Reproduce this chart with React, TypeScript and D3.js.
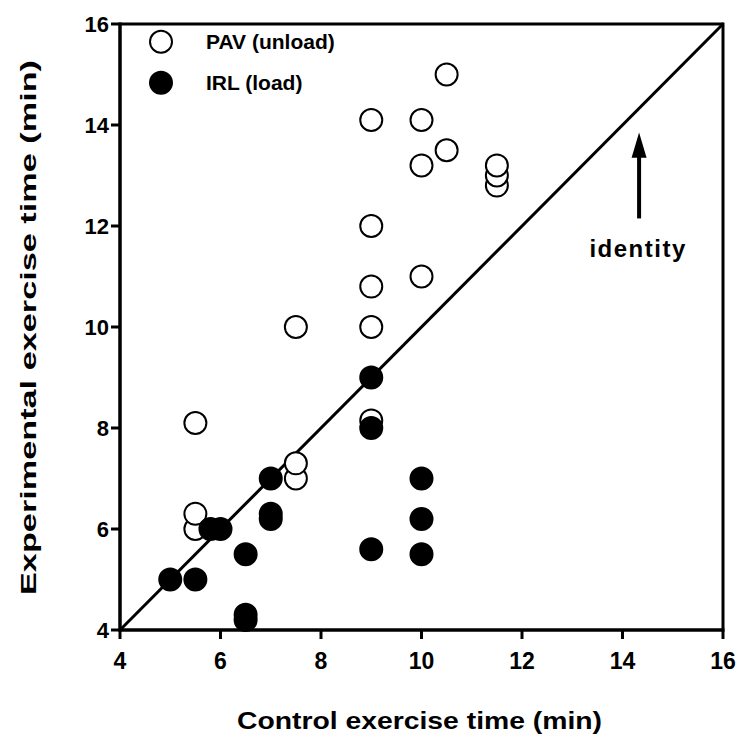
import React from "react";
import * as d3 from "d3";

const pavX = [5.5, 5.5, 5.5, 7.5, 7.5, 7.5, 9, 9, 9, 9, 9, 10, 10, 10, 10.5, 10.5, 11.5, 11.5, 11.5];
const pavY = [6.0, 6.3, 8.1, 7.0, 7.3, 10.0, 8.15, 10.0, 10.8, 12.0, 14.1, 11.0, 13.2, 14.1, 13.5, 15.0, 12.8, 13.0, 13.2];
const irlX = [5, 5.5, 5.8, 6.0, 6.5, 6.5, 6.5, 7, 7, 7, 9, 9, 9, 10, 10, 10];
const irlY = [5.0, 5.0, 6.0, 6.0, 5.5, 4.3, 4.2, 7.0, 6.3, 6.2, 9.0, 8.0, 5.6, 7.0, 6.2, 5.5];
const tickValues = [4, 6, 8, 10, 12, 14, 16];
const legendLabels = ["PAV (unload)", "IRL (load)"];

export default function App() {
  const x = d3.scaleLinear().domain([4, 16]).range([120, 723]);
  const y = d3.scaleLinear().domain([4, 16]).range([630, 24]);
  const font = "Liberation Sans, Arial, sans-serif";
  const pav = pavX.map((v, i) => ({ x: v, y: pavY[i] })).sort((a, b) => a.y - b.y);
  const irl = irlX.map((v, i) => ({ x: v, y: irlY[i] }));
  const line = d3.line<number[]>().x((d) => x(d[0])).y((d) => y(d[1]));
  const r = 11;
  const ax = x(14.33);
  return (
    <svg width={740} height={738} style={{ position: "absolute", left: 0, top: 0, background: "#fff" }} fontFamily={font}>
      <rect width={740} height={738} fill="#fff" />
      {/* frame */}
      <line x1={x(4)} x2={x(16)} y1={y(16)} y2={y(16)} stroke="#000" strokeWidth={3} />
      <line x1={x(16)} x2={x(16)} y1={y(16) - 1.5} y2={y(4)} stroke="#000" strokeWidth={3} />
      {/* identity line */}
      <path d={line([[4, 4], [16, 16]]) || ""} stroke="#000" strokeWidth={3} fill="none" />
      {/* axes */}
      <line x1={x(4) - 1.5} x2={x(16) + 1.5} y1={y(4)} y2={y(4)} stroke="#000" strokeWidth={3.5} />
      <line x1={x(4)} x2={x(4)} y1={y(16) - 1.5} y2={y(4) + 1.5} stroke="#000" strokeWidth={3.5} />
      {tickValues.map((t) => (
        <g key={"xt" + t}>
          <line x1={x(t)} x2={x(t)} y1={y(4)} y2={y(4) + 9} stroke="#000" strokeWidth={3} />
          <text x={x(t)} y={y(4) + 39} textAnchor="middle" fontSize={23} fontWeight="bold">{t}</text>
        </g>
      ))}
      {tickValues.map((t) => (
        <g key={"yt" + t}>
          <line x1={x(4) - 9} x2={x(4)} y1={y(t)} y2={y(t)} stroke="#000" strokeWidth={3} />
          <text x={x(4) - 11} y={y(t)} dy="0.36em" textAnchor="end" fontSize={22} fontWeight="bold">{t}</text>
        </g>
      ))}
      {/* axis titles */}
      <text x={(x(4) + x(16)) / 2 - 2} y={729} textAnchor="middle" fontSize={24} fontWeight="bold" textLength={365} lengthAdjust="spacingAndGlyphs">
        Control exercise time (min)
      </text>
      <text transform={`translate(36, ${(60 + 595) / 2}) rotate(-90)`} textAnchor="middle" fontSize={22} fontWeight="bold" textLength={535} lengthAdjust="spacingAndGlyphs">
        Experimental exercise time (min)
      </text>
      {/* points */}
      {pav.map((d, i) => (
        <circle key={"p" + i} cx={x(d.x)} cy={y(d.y)} r={r} fill="#fff" stroke="#000" strokeWidth={2} />
      ))}
      {irl.map((d, i) => (
        <circle key={"i" + i} cx={x(d.x)} cy={y(d.y)} r={r} fill="#000" stroke="#000" strokeWidth={2} />
      ))}
      {/* arrow */}
      <line x1={ax} x2={ax} y1={y(12.15)} y2={y(13.4)} stroke="#000" strokeWidth={4} />
      <path d={`M${ax - 7.5},${y(13.35)} L${ax},${y(13.85)} L${ax + 7.5},${y(13.35)} Z`} fill="#000" />
      <text x={ax - 1} y={257} textAnchor="middle" fontSize={24} fontWeight="bold" letterSpacing={1.5}>identity</text>
      {/* legend */}
      <circle cx={161} cy={41.7} r={r} fill="#fff" stroke="#000" strokeWidth={2} />
      <circle cx={161} cy={82.7} r={r} fill="#000" stroke="#000" strokeWidth={2} />
      <text x={206} y={41.7} dy="0.36em" fontSize={21} fontWeight="bold">{legendLabels[0]}</text>
      <text x={206} y={82.7} dy="0.36em" fontSize={21} fontWeight="bold">{legendLabels[1]}</text>
    </svg>
  );
}
